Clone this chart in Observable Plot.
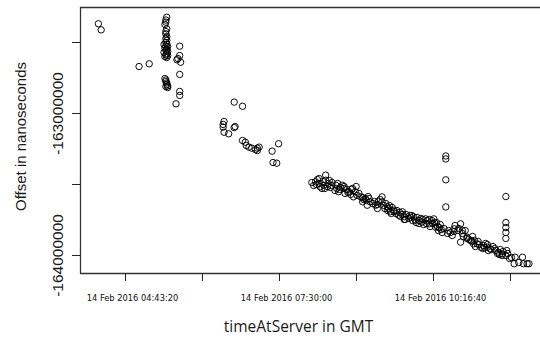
<!DOCTYPE html>
<html>
<head>
<meta charset="utf-8">
<script src="https://cdn.jsdelivr.net/npm/d3@7"></script>
<script src="https://cdn.jsdelivr.net/npm/@observablehq/plot@0.6"></script>
<style>
  html, body { margin: 0; padding: 0; background: #fff; }
  #chart svg { display: block; background: #fff; }
</style>
</head>
<body>
<div id="chart"></div>
<script>
const times = [
  "04:14","04:17","04:58","05:09",
  "05:28","05:27","05:27","05:26","05:28","05:27","05:27","05:28","05:27","05:28","05:27","05:28","05:25","05:27","05:29","05:26","05:28","05:27","05:29","05:25","05:28","05:27","05:29","05:26","05:28",
  "05:42","05:42","05:39","05:43","05:40","05:42","05:42","05:42","05:38",
  "05:26","05:27","05:27","05:28","05:28","05:29","05:29","05:27",
  "06:41","06:50","06:30","06:29","06:29","06:30","06:35","06:42","06:41","06:50","06:53","06:54","06:57","07:00","07:04","07:06","07:08","07:06","07:29","07:22","07:23","07:27",
  "08:05","08:07","08:09","08:11","08:13","08:14","08:16","08:17","08:18","08:20","08:20","08:22","08:23","08:25","08:27","08:30","08:31","08:32","08:34","08:36","08:38","08:40","08:41","08:43","08:45","08:47","08:48","08:50","08:52","08:53","08:56","08:58",
  "09:00","09:01","09:03","09:05","09:06","09:08","09:11","09:14","09:16","09:17","09:21","09:21","09:23","09:25","09:27","09:27","09:28","09:30","09:32","09:34","09:36","09:37","09:39","09:41","09:43","09:45","09:46","09:47","09:50","09:52","09:53","09:55","09:57","09:58",
  "10:01","10:01","10:03","10:04","10:06","10:08","10:10","10:12","10:13","10:15","10:17","10:19","10:20","10:22","10:23","10:24","10:26","10:28","10:30","10:30","10:30","10:30","10:32","10:33","10:37","10:39","10:40","10:43","10:46","10:46","10:48","10:49","10:51","10:53","10:55","10:57","10:59",
  "11:00","11:02","11:04","11:05","11:08","11:10","11:11","11:13","11:15","11:16","11:18","11:21","11:24","11:26","11:27","11:29","11:31","11:32","11:35","11:35","11:35","11:35","11:35","11:35","11:36","11:39","11:44","11:45","11:49","11:53","11:54","11:58","12:00"
];
const offsets = [
  -162.368e6,-162.411e6,-162.669e6,-162.650e6,
  -162.322e6,-162.342e6,-162.357e6,-162.373e6,-162.404e6,-162.423e6,-162.439e6,-162.458e6,-162.472e6,-162.486e6,-162.500e6,-162.511e6,-162.514e6,-162.525e6,-162.528e6,-162.539e6,-162.546e6,-162.556e6,-162.563e6,-162.570e6,-162.577e6,-162.588e6,-162.592e6,-162.599e6,-162.606e6,
  -162.526e6,-162.592e6,-162.622e6,-162.639e6,-162.613e6,-162.725e6,-162.845e6,-162.873e6,-162.932e6,
  -162.754e6,-162.764e6,-162.775e6,-162.785e6,-162.796e6,-162.806e6,-162.817e6,-162.810e6,
  -162.920e6,-162.949e6,-163.056e6,-163.077e6,-163.096e6,-163.132e6,-163.143e6,-163.092e6,-163.099e6,-163.190e6,-163.202e6,-163.225e6,-163.237e6,-163.244e6,-163.254e6,-163.244e6,-163.237e6,-163.261e6,-163.213e6,-163.265e6,-163.345e6,-163.350e6,
  -163.486e6,-163.507e6,-163.481e6,-163.465e6,-163.493e6,-163.516e6,-163.528e6,-163.479e6,-163.505e6,-163.434e6,-163.470e6,-163.514e6,-163.493e6,-163.521e6,-163.486e6,-163.542e6,-163.505e6,-163.528e6,-163.551e6,-163.521e6,-163.505e6,-163.528e6,-163.563e6,-163.535e6,-163.551e6,-163.570e6,-163.535e6,-163.587e6,-163.551e6,-163.514e6,-163.563e6,-163.587e6,
  -163.622e6,-163.606e6,-163.599e6,-163.646e6,-163.585e6,-163.622e6,-163.634e6,-163.646e6,-163.669e6,-163.620e6,-163.587e6,-163.622e6,-163.648e6,-163.634e6,-163.657e6,-163.683e6,-163.669e6,-163.692e6,-163.662e6,-163.681e6,-163.704e6,-163.683e6,-163.716e6,-163.725e6,-163.692e6,-163.727e6,-163.746e6,-163.711e6,-163.739e6,-163.732e6,-163.718e6,-163.727e6,-163.751e6,-163.768e6,
  -163.775e6,-163.754e6,-163.739e6,-163.765e6,-163.782e6,-163.742e6,-163.754e6,-163.777e6,-163.796e6,-163.754e6,-163.742e6,-163.801e6,-163.768e6,-163.824e6,-163.803e6,-163.782e6,-163.838e6,-163.810e6,-163.299e6,-163.320e6,-163.467e6,-163.658e6,-163.845e6,-163.824e6,-163.859e6,-163.812e6,-163.789e6,-163.824e6,-163.777e6,-163.906e6,-163.824e6,-163.866e6,-163.824e6,-163.871e6,-163.887e6,-163.894e6,-163.866e6,
  -163.918e6,-163.937e6,-163.918e6,-163.901e6,-163.942e6,-163.951e6,-163.930e6,-163.915e6,-163.942e6,-163.965e6,-163.953e6,-163.937e6,-163.965e6,-163.986e6,-163.977e6,-163.958e6,-163.988e6,-163.972e6,-163.585e6,-163.768e6,-163.803e6,-163.838e6,-163.880e6,-164.000e6,-163.965e6,-164.021e6,-164.058e6,-164.012e6,-164.049e6,-164.012e6,-164.058e6,-164.058e6,-164.058e6
];
// further overlapping readings inside the dense 08:00-11:45 band
const bandTimes = [
  "08:10","08:13","08:19","08:24","08:26","08:33","08:35","08:40","08:44","08:49","08:54","09:00","09:04","09:07","09:13","09:16","09:19","09:24","09:29","09:31",
  "09:34","09:40","09:43","09:45","09:51","09:54","09:59","10:05","10:09","10:12","10:16","10:18","10:21","10:25","10:35","10:39","10:44","10:48","10:53","10:58",
  "11:01","11:06","11:12","11:15","11:19","11:23","11:28","11:31","11:37","11:41"
];
const bandOffsets = [
  -163.500e6,-163.458e6,-163.528e6,-163.472e6,-163.507e6,-163.493e6,-163.535e6,-163.514e6,-163.556e6,-163.528e6,-163.577e6,-163.592e6,-163.613e6,-163.599e6,-163.620e6,-163.641e6,-163.606e6,-163.669e6,-163.648e6,-163.704e6,
  -163.690e6,-163.697e6,-163.711e6,-163.746e6,-163.718e6,-163.754e6,-163.732e6,-163.746e6,-163.775e6,-163.746e6,-163.775e6,-163.768e6,-163.796e6,-163.817e6,-163.838e6,-163.831e6,-163.810e6,-163.845e6,-163.880e6,-163.901e6,
  -163.894e6,-163.923e6,-163.944e6,-163.923e6,-163.958e6,-163.951e6,-163.993e6,-164.000e6,-163.986e6,-164.014e6
];

const xTickTimes = ["04:43:20","06:06:40","07:30:00","08:53:20","10:16:40","11:40:00"];
const xLabelTimes = ["04:43:20","07:30:00","10:16:40"];
const yTickValues = [-162500000,-163000000,-163500000,-164000000];
const yLabelValues = [-163000000,-164000000];
const xDomainTimes = ["03:54:38","12:12:30"];
const yDomain = [-164126800, -162253500];

const day = "2016-02-14";
const toDate = t => new Date(`${day}T${t.length === 5 ? t + ":00" : t}Z`);
const data = times.map((t, i) => ({time: toDate(t), offset: offsets[i]}))
  .concat(bandTimes.map((t, i) => ({time: toDate(t), offset: bandOffsets[i]})));

const xDomain = xDomainTimes.map(toDate);
const ink = "#1a1a1a";

const chart = Plot.plot({
  width: 540,
  height: 338,
  marginLeft: 80,
  marginRight: 0,
  marginTop: 7,
  marginBottom: 65,
  style: {background: "#fff", color: ink},
  x: {type: "utc", domain: xDomain},
  y: {domain: yDomain},
  marks: [
    Plot.ruleY([yDomain[1], yDomain[0]], {stroke: "#333", strokeWidth: 1.3}),
    Plot.ruleX([xDomain[0]], {stroke: "#333", strokeWidth: 1.3}),
    Plot.axisX(xTickTimes.map(toDate), {anchor: "bottom", tickSize: 8, tickFormat: () => "", label: null, stroke: "#222"}),
    Plot.axisY(yTickValues, {anchor: "left", tickSize: 8, tickFormat: () => "", label: null, stroke: "#222"}),
    Plot.text(xLabelTimes, {
      x: d => toDate(d), text: d => `14 Feb 2016 ${d}`,
      frameAnchor: "bottom", textAnchor: "middle", lineAnchor: "bottom", dy: 27.5, dx: 7,
      fontSize: 8.3, fontFamily: "DejaVu Sans", fill: "#111"
    }),
    Plot.text(yLabelValues, {
      y: d => d, text: d => String(d),
      frameAnchor: "left", textAnchor: "middle", rotate: -90, lineAnchor: "bottom", dx: -18,
      fontSize: 15.5, fontFamily: "Liberation Sans", fill: ink
    }),
    Plot.text(["timeAtServer in GMT"], {
      text: d => d, frameAnchor: "bottom", textAnchor: "middle", lineAnchor: "bottom", dy: 58, dx: -12,
      fontSize: 15.5, fontFamily: "Open Sans", fill: ink
    }),
    Plot.text(["Offset in nanoseconds"], {
      text: d => d, frameAnchor: "left", textAnchor: "middle", rotate: -90, lineAnchor: "bottom", dx: -55, dy: -4,
      fontSize: 15, fontFamily: "Liberation Sans", fill: ink
    }),
    Plot.dot(data, {x: "time", y: "offset", r: 3.2, stroke: "#000", strokeWidth: 0.95, fill: "none"})
  ]
});
document.getElementById("chart").append(chart);
</script>
</body>
</html>
